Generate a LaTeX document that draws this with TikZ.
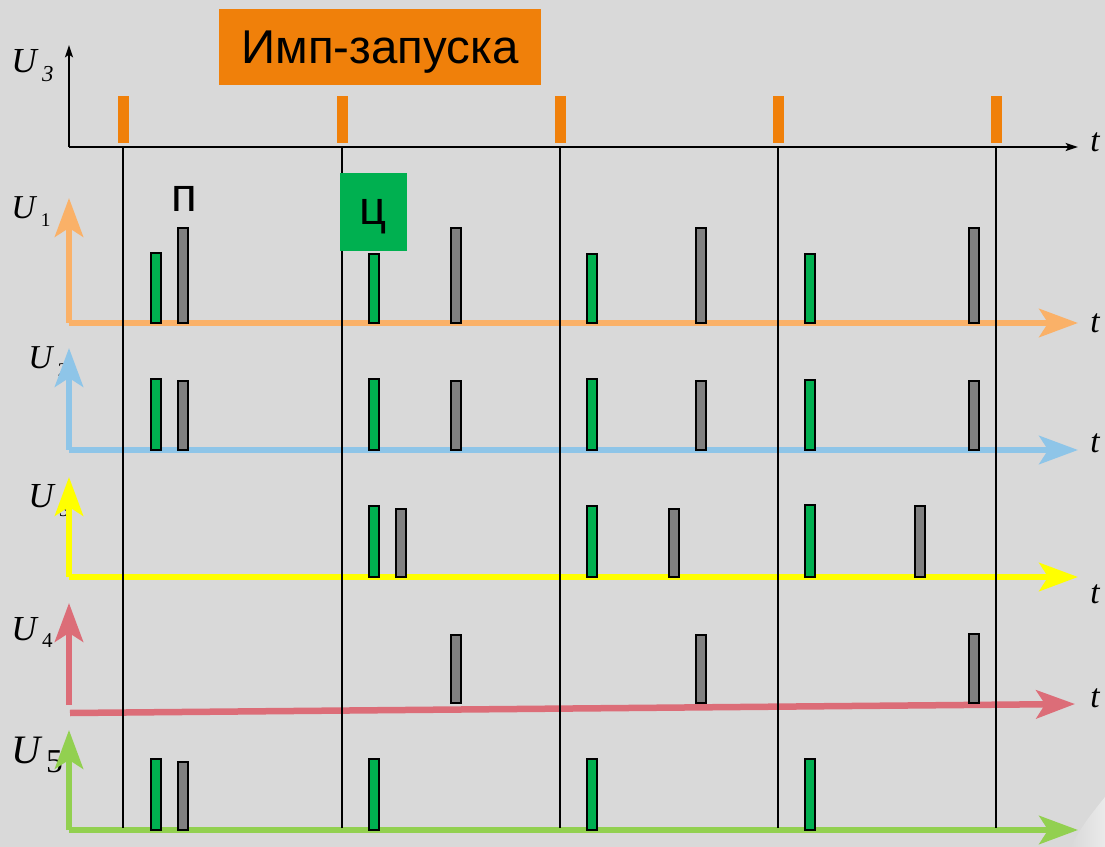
\documentclass[tikz,border=0pt]{standalone}
\usepackage{fontspec}
\setmainfont{Liberation Serif}
\newfontfamily\sansru{Liberation Sans}
\usepackage{xcolor}
\usetikzlibrary{arrows.meta}
\definecolor{fon}{HTML}{D9D9D9}
\definecolor{oranzh}{HTML}{F0800A}
\definecolor{zel}{HTML}{00B050}
\definecolor{ser}{HTML}{808080}
\definecolor{osA}{HTML}{FAB168}
\definecolor{osB}{HTML}{8EC5E8}
\definecolor{osC}{HTML}{FFFF00}
\definecolor{osD}{HTML}{DC6D78}
\definecolor{osE}{HTML}{92D050}
% U with lowered index: size, index size, drop, index
\newcommand{\Ulab}[4]{{\fontsize{#1}{#1}\selectfont\textit{U}}\kern2pt\raisebox{-#3}{\fontsize{#2}{#2}\selectfont #4}}

\begin{document}
\begin{tikzpicture}[x=0.02cm,y=-0.02cm,
	osi/.style={line width=3.7pt,draw=#1,-{Stealth[length=22pt,width=16pt,inset=5pt]}},
	chern/.style={line width=1.1pt,-{Stealth[length=7pt,width=4.5pt,inset=1.5pt]}},
	gimp/.style={draw=black,fill=zel,line width=1.2pt},
	simp/.style={draw=black,fill=ser,line width=1.2pt},
	ulab/.style={anchor=base west,inner sep=0pt},
	tlab/.style={anchor=base west,inner sep=0pt,font=\fontsize{19}{19}\selectfont\itshape},
	bukva/.style={inner sep=0pt,text depth=0pt,font=\sansru\fontsize{27}{27}\selectfont}]
	\useasboundingbox (0,0) rectangle (1105,847);
	\fill[fon] (0,0) rectangle (1105,847);
	\shade[left color=fon,right color=white!45!fon] (1070,847) .. controls (1085,822) .. (1105,797) -- (1105,847) -- cycle;
	% labels
	\node(lu0)at(11,73)[ulab]{\Ulab{20}{13}{5pt}{\textit{3}}};
	\node(lu1)at(11,219)[ulab]{\Ulab{19}{11}{4.5pt}{1}};
	\node(lu2)at(28,369)[ulab]{\Ulab{19}{11}{4.5pt}{2}};
	\node(lu3)at(28,507)[ulab]{\Ulab{20}{11}{5.5pt}{3}};
	\node(lu4)at(11,640)[ulab]{\Ulab{20}{12}{4pt}{4}};
	\node(lu5)at(11,763)[ulab]{\Ulab{23}{19}{5.5pt}{5}};
	\node(lt0)at(1090,152)[tlab]{t};
	\node(lt1)at(1090,333)[tlab]{t};
	\node(lt2)at(1090,453)[tlab]{t};
	\node(lt3)at(1090,603)[tlab]{t};
	\node(lt4)at(1090,707)[tlab]{t};
	% coloured axes
	\coordinate(o1)at(69,323); \coordinate(y1)at(69,198); \coordinate(t1)at(1078,323);
	\coordinate(o2)at(69,450); \coordinate(y2)at(69,348); \coordinate(t2)at(1078,450);
	\coordinate(o3)at(69,577); \coordinate(y3)at(69,477); \coordinate(t3)at(1078,577);
	\coordinate(o4)at(69,705); \coordinate(y4)at(69,603); \coordinate(s4)at(70,713); \coordinate(t4)at(1075,704);
	\coordinate(o5)at(69,830); \coordinate(y5)at(69,730); \coordinate(t5)at(1078,830);
	\draw[osi=osA](o1)--(y1); \draw[osi=osA](o1)--(t1);
	\draw[osi=osB](o2)--(y2); \draw[osi=osB](o2)--(t2);
	\draw[osi=osC](o3)--(y3); \draw[osi=osC](o3)--(t3);
	\draw[osi=osD](o4)--(y4); \draw[osi=osD](s4)--(t4);
	\draw[osi=osE](o5)--(y5); \draw[osi=osE](o5)--(t5);
	% start pulses and clock lines
	\foreach \x in {123,342,560,778,996}{
		\fill[oranzh](\x-5.5,96)rectangle(\x+5.5,143);
		\draw[line width=1.1pt](\x,147)--(\x,828);
	}
	\coordinate(o0)at(69,147); \coordinate(y0)at(69,45); \coordinate(t0)at(1078,147);
	\draw[chern](o0)--(y0);
	\draw[chern](o0)--(t0);
	% pulses
	\foreach \x/\v in {156/253,374/254,592/254,810/254} \draw[gimp](\x-5,323)rectangle(\x+5,\v);
	\foreach \x/\v in {183/228,456/228,701/228,974/228} \draw[simp](\x-5,323)rectangle(\x+5,\v);
	\foreach \x/\v in {156/379,374/379,592/379,810/380} \draw[gimp](\x-5,450)rectangle(\x+5,\v);
	\foreach \x/\v in {183/381,456/381,701/381,974/381} \draw[simp](\x-5,450)rectangle(\x+5,\v);
	\foreach \x/\v in {374/506,592/506,810/505} \draw[gimp](\x-5,577)rectangle(\x+5,\v);
	\foreach \x/\v in {401/509,674/509,920/506} \draw[simp](\x-5,577)rectangle(\x+5,\v);
	\foreach \x/\v in {456/635,701/635,974/634} \draw[simp](\x-5,703)rectangle(\x+5,\v);
	\foreach \x/\v in {156/759,374/759,592/759,810/759} \draw[gimp](\x-5,830)rectangle(\x+5,\v);
	\foreach \x/\v in {183/762} \draw[simp](\x-5,830)rectangle(\x+5,\v);
	% boxes
	\node(titul)at(380,47)[bukva,fill=oranzh,minimum width=6.44cm,minimum height=1.52cm]{Имп-запуска};
	\node(cbox)at(373.5,212)[bukva,fill=zel,minimum width=1.34cm,minimum height=1.56cm]{ц};
	\node(pmark)at(184.5,212)[bukva,anchor=base]{п};
\end{tikzpicture}
\end{document}
